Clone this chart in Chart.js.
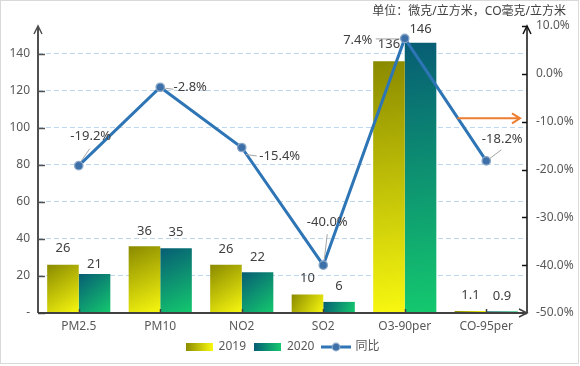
<!DOCTYPE html>
<html>
<head>
<meta charset="utf-8">
<script src="https://cdn.jsdelivr.net/npm/chart.js@4.4.1/dist/chart.umd.min.js"></script>
<style>
  body { margin: 0; background: #fff; }
  #wrap { width: 580px; height: 366px; }
</style>
</head>
<body>
<div id="wrap"><canvas id="airChart" width="580" height="366"></canvas></div>
<script>
// chart data
const categories = ['PM2.5', 'PM10', 'NO2', 'SO2', 'O3-90per', 'CO-95per'];
const values2019 = [26, 36, 26, 10, 136, 1.1];
const values2020 = [21, 35, 22, 6, 146, 0.9];
const changePct = [-19.2, -2.8, -15.4, -40.0, 7.4, -18.2];
const seriesNames = ['2019', '2020', '同比'];
const leftTicks = [0, 20, 40, 60, 80, 100, 120, 140];
const rightTicks = [10, 0, -10, -20, -30, -40, -50];
const unitText = '单位：微克/立方米，CO毫克/立方米';

// label placement (px, relative to the mark)
const barLabelDy = [[-17, -15, -16, -16.5, -17, -16], [-10, -16, -15, -16, -13, -15]];
const lineLabelOffset = [[12, -29], [30, 0], [38, 8.5], [4, -43], [-47, 1.6], [16, -22]];
const leaderLines = [
    [[2, -4], [11, -17]], [[5, 1], [13, 2]], [[4, 7], [15, 8.5]],
    [[1, -5], [4, -31]], [[-5, 0.5], [-29, 0.5]], [[3, -2], [15, -11]]
];

const FONT = '"Noto Sans", "Noto Sans CJK SC", sans-serif';
const colors2019 = ['#8a8a00', '#f8f810'];
const colors2020 = ['#075d74', '#14c96e'];
const lineColor = '#2e75b6';
const catPct = 0.775;

// diagonal gradient per bar, from scales
function barFill(c0, c1) {
    return (ctx) => {
        const chart = ctx.chart;
        const xs = chart.scales.x, ys = chart.scales.y;
        if (ctx.type !== 'data' || !xs || !ys || !chart.chartArea) return c1;
        const cw = xs.getPixelForValue(1) - xs.getPixelForValue(0);
        const bw = cw * catPct / 2;
        const xc = xs.getPixelForValue(ctx.dataIndex);
        const left = ctx.datasetIndex === 0 ? xc - bw : xc;
        const top = ys.getPixelForValue(ctx.raw);
        const bottom = ys.getPixelForValue(0);
        const g = chart.ctx.createLinearGradient(left, top, left + bw, bottom);
        g.addColorStop(0, c0);
        g.addColorStop(1, c1);
        return g;
    };
}

function swatch(c0, c1) {
    const cv = document.createElement('canvas');
    cv.width = 27; cv.height = 8;
    const g = cv.getContext('2d');
    const gr = g.createLinearGradient(0, 0, 27, 0);
    gr.addColorStop(0, c0);
    gr.addColorStop(1, c1);
    g.fillStyle = gr;
    g.fillRect(0, 0, 27, 8);
    return cv;
}

function lineSwatch() {
    const cv = document.createElement('canvas');
    cv.width = 30; cv.height = 10;
    const g = cv.getContext('2d');
    g.strokeStyle = lineColor; g.lineWidth = 3;
    g.beginPath(); g.moveTo(0, 5); g.lineTo(30, 5); g.stroke();
    g.fillStyle = '#3d70a8'; g.strokeStyle = '#8aa7c7'; g.lineWidth = 1.2;
    g.beginPath(); g.arc(15, 5, 3.8, 0, Math.PI * 2); g.fill(); g.stroke();
    return cv;
}

const legendIcons = [swatch(colors2019[0], colors2019[1]), swatch(colors2020[0], colors2020[1]), lineSwatch()];

// white background, outer frame and unit note
const framePlugin = {
    id: 'frame',
    beforeDraw(chart) {
        const ctx = chart.ctx;
        ctx.save();
        ctx.fillStyle = '#fff';
        ctx.fillRect(0, 0, chart.width, chart.height);
        ctx.strokeStyle = '#d9d9d9';
        ctx.lineWidth = 1;
        ctx.strokeRect(0.5, 0.5, chart.width - 2, chart.height - 3);
        ctx.font = '12px ' + FONT;
        ctx.fillStyle = '#404040';
        ctx.textAlign = 'right';
        ctx.textBaseline = 'middle';
        ctx.fillText(unitText, 566, 12);
        ctx.restore();
    }
};

function seg(ctx, x1, y1, x2, y2) {
    ctx.beginPath(); ctx.moveTo(x1, y1); ctx.lineTo(x2, y2); ctx.stroke();
}

// axis lines with arrow heads and inward tick marks
const axisPlugin = {
    id: 'axisLines',
    afterDatasetsDraw(chart) {
        const { ctx, chartArea: a, scales } = chart;
        ctx.save();
        // left axis
        ctx.strokeStyle = '#505050'; ctx.lineWidth = 2;
        seg(ctx, a.left, a.bottom, a.left, a.top);
        scales.y.ticks.forEach(t => {
            const py = Math.round(scales.y.getPixelForValue(t.value)) + 0.5;
            ctx.lineWidth = 1.5;
            seg(ctx, a.left, py, a.left + 7, py);
        });
        ctx.lineWidth = 1.5;
        ctx.beginPath();
        ctx.moveTo(a.left - 4, a.top + 8); ctx.lineTo(a.left, a.top); ctx.lineTo(a.left + 4, a.top + 8);
        ctx.stroke();
        // right axis
        ctx.strokeStyle = '#111'; ctx.lineWidth = 1.5;
        seg(ctx, a.right, a.bottom, a.right, a.top);
        scales.y1.ticks.forEach(t => {
            const py = Math.round(scales.y1.getPixelForValue(t.value)) + 0.5;
            seg(ctx, a.right - 5, py, a.right, py);
        });
        ctx.beginPath();
        ctx.moveTo(a.right - 4, a.top + 8); ctx.lineTo(a.right, a.top); ctx.lineTo(a.right + 4, a.top + 8);
        ctx.stroke();
        // bottom axis
        ctx.strokeStyle = '#404040'; ctx.lineWidth = 2;
        seg(ctx, a.left, a.bottom, a.right, a.bottom);
        ctx.lineWidth = 1.5;
        categories.forEach((c, i) => {
            const px = Math.round(scales.x.getPixelForValue(i)) + 0.5;
            seg(ctx, px, a.bottom, px, a.bottom - 4);
        });
        ctx.beginPath();
        ctx.moveTo(a.right - 8, a.bottom - 4); ctx.lineTo(a.right, a.bottom); ctx.lineTo(a.right - 8, a.bottom + 4);
        ctx.stroke();
        // orange arrow note
        const ay = scales.y1.getPixelForValue(-9.3);
        const ax0 = scales.x.getPixelForValue(5) - 29;
        const ax1 = a.right - 7;
        ctx.strokeStyle = '#ed7d31'; ctx.lineWidth = 2;
        seg(ctx, ax0, ay, ax1, ay);
        ctx.beginPath();
        ctx.moveTo(ax1 - 8, ay - 5); ctx.lineTo(ax1, ay); ctx.lineTo(ax1 - 8, ay + 5);
        ctx.stroke();
        ctx.restore();
    }
};

// data labels for bars and line
const labelPlugin = {
    id: 'valueLabels',
    afterDatasetsDraw(chart) {
        const ctx = chart.ctx;
        ctx.save();
        ctx.font = '13px ' + FONT;
        ctx.fillStyle = '#404040';
        ctx.textAlign = 'center';
        ctx.textBaseline = 'middle';
        [values2019, values2020].forEach((vals, di) => {
            chart.getDatasetMeta(di).data.forEach((bar, i) => {
                ctx.fillText(String(vals[i]), bar.x, bar.y + barLabelDy[di][i]);
            });
        });
        chart.getDatasetMeta(2).data.forEach((pt, i) => {
            const [p0, p1] = leaderLines[i];
            ctx.strokeStyle = '#a6a6a6'; ctx.lineWidth = 1;
            seg(ctx, pt.x + p0[0], pt.y + p0[1], pt.x + p1[0], pt.y + p1[1]);
            const [dx, dy] = lineLabelOffset[i];
            ctx.fillText(changePct[i].toFixed(1) + '%', pt.x + dx, pt.y + dy);
        });
        ctx.restore();
    }
};

new Chart(document.getElementById('airChart'), {
    data: {
        labels: categories,
        datasets: [
            {
                type: 'bar', label: seriesNames[0], data: values2019, yAxisID: 'y', order: 1,
                backgroundColor: barFill(colors2019[0], colors2019[1]),
                categoryPercentage: catPct, barPercentage: 1, borderWidth: 0
            },
            {
                type: 'bar', label: seriesNames[1], data: values2020, yAxisID: 'y', order: 1,
                backgroundColor: barFill(colors2020[0], colors2020[1]),
                categoryPercentage: catPct, barPercentage: 1, borderWidth: 0
            },
            {
                type: 'line', label: seriesNames[2], data: changePct, yAxisID: 'y1', order: 0,
                borderColor: lineColor, borderWidth: 3, tension: 0,
                pointRadius: 4.2, pointBackgroundColor: '#3d70a8',
                pointBorderColor: '#8aa7c7', pointBorderWidth: 1.3
            }
        ]
    },
    options: {
        responsive: false,
        animation: false,
        layout: { padding: { top: 26, right: 0, bottom: 3, left: 0 } },
        plugins: {
            title: { display: false },
            legend: {
                position: 'bottom',
                fullSize: false,
                labels: {
                    usePointStyle: true, pointStyleWidth: 27, padding: 8,
                    color: '#595959', font: { family: FONT, size: 12 },
                    generateLabels: () => seriesNames.map((name, i) => ({
                        text: name, pointStyle: legendIcons[i], datasetIndex: i,
                        fillStyle: 'transparent', strokeStyle: 'transparent', lineWidth: 0,
                        fontColor: '#595959', hidden: false
                    }))
                }
            },
            tooltip: { enabled: false }
        },
        scales: {
            x: {
                grid: { display: false, drawTicks: false }, border: { display: false },
                ticks: { color: '#595959', font: { family: FONT, size: 12 }, padding: 6, maxRotation: 0 },
                afterFit: s => { s.height = 20; }
            },
            y: {
                position: 'left', min: 0, max: 155,
                afterBuildTicks: s => { s.ticks = leftTicks.map(v => ({ value: v })); },
                afterFit: s => { s.width = 38; },
                grid: {
                    drawTicks: false,
                    color: c => (c.tick && c.tick.value === 0 ? 'rgba(0,0,0,0)' : '#bdd7ee')
                },
                border: { display: false, dash: [5, 3] },
                ticks: {
                    color: '#595959', font: { family: FONT, size: 12 }, padding: 8,
                    callback: v => (v === 0 ? '-' : v)
                }
            },
            y1: {
                position: 'right', min: -50, max: 10,
                afterBuildTicks: s => { s.ticks = rightTicks.map(v => ({ value: v })); },
                afterFit: s => { s.width = 53; },
                grid: { display: false, drawTicks: false }, border: { display: false },
                ticks: {
                    color: '#595959', font: { family: FONT, size: 12 }, padding: 9,
                    callback: v => v.toFixed(1) + '%'
                }
            }
        }
    },
    plugins: [framePlugin, axisPlugin, labelPlugin]
});
</script>
</body>
</html>
